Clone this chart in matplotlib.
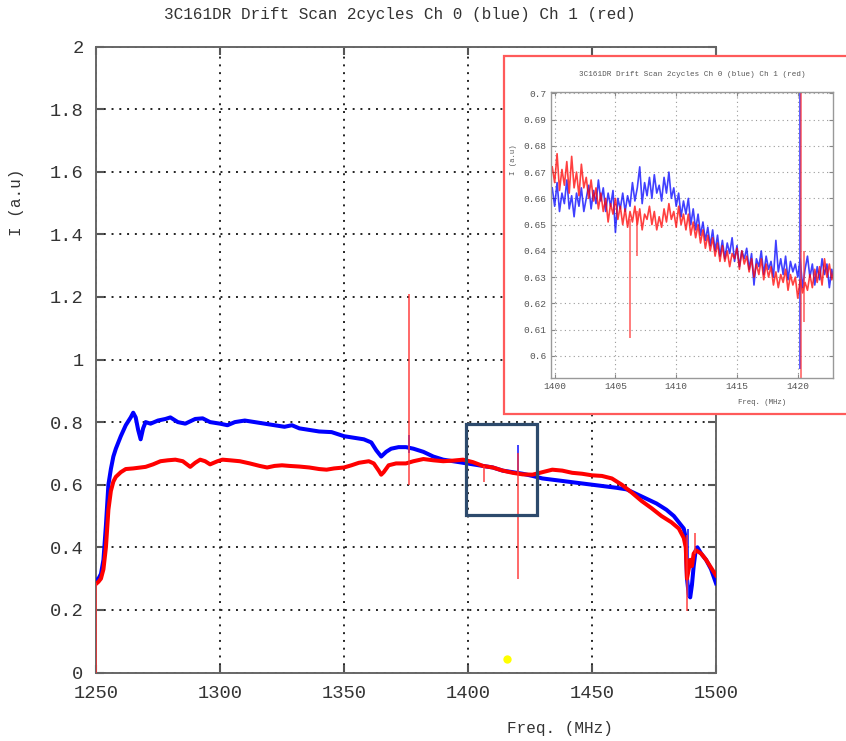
import matplotlib

matplotlib.use("Agg")

import matplotlib.pyplot as plt
import numpy as np
from matplotlib.patches import Rectangle
from matplotlib.ticker import FuncFormatter

plt.rcParams["font.family"] = ["Liberation Mono", "DejaVu Sans Mono"]

TITLE = "3C161DR Drift Scan 2cycles Ch 0 (blue) Ch 1 (red)"

# ---- main spectrum (MHz, a.u.) ----
blue_freq = [1250, 1251, 1252, 1253, 1254, 1255, 1256, 1257, 1258, 1260, 1262, 1264, 1265,
             1266, 1267, 1268, 1269, 1270, 1272, 1275, 1278, 1280, 1283, 1286, 1290, 1293,
             1296, 1300, 1303, 1306, 1310, 1314, 1318, 1322, 1326, 1329, 1332, 1336, 1340,
             1345, 1350, 1354, 1358, 1361, 1363, 1365, 1367, 1369, 1372, 1375, 1378, 1382,
             1386, 1390, 1394, 1398, 1402, 1406, 1410, 1414, 1418, 1422, 1426, 1430, 1435,
             1440, 1445, 1450, 1455, 1460, 1464, 1468, 1472, 1476, 1480, 1483, 1485, 1487,
             1487.8, 1488.3, 1489, 1489.6, 1490.3, 1491, 1491.8, 1492.5, 1494, 1496, 1498, 1500]
blue_int = [0.295, 0.30, 0.315, 0.36, 0.47, 0.60, 0.65, 0.69, 0.715, 0.755, 0.79, 0.815, 0.83,
            0.815, 0.775, 0.745, 0.78, 0.80, 0.795, 0.805, 0.81, 0.815, 0.80, 0.795, 0.81, 0.812,
            0.80, 0.795, 0.79, 0.80, 0.805, 0.80, 0.795, 0.79, 0.785, 0.79, 0.78, 0.775, 0.77,
            0.768, 0.755, 0.75, 0.745, 0.735, 0.71, 0.69, 0.705, 0.715, 0.72, 0.72, 0.715, 0.705,
            0.69, 0.68, 0.675, 0.67, 0.665, 0.66, 0.655, 0.645, 0.64, 0.635, 0.628, 0.62, 0.615,
            0.61, 0.605, 0.60, 0.595, 0.59, 0.585, 0.57, 0.555, 0.54, 0.52, 0.50, 0.48, 0.46,
            0.43, 0.30, 0.25, 0.24, 0.28, 0.34, 0.39, 0.40, 0.38, 0.36, 0.33, 0.285]

red_freq = [1250.3, 1251, 1252, 1253, 1254, 1255, 1256, 1257, 1258, 1260, 1262, 1265, 1268,
            1270, 1273, 1276, 1279, 1282, 1285, 1288, 1290, 1292, 1294, 1296, 1299, 1301, 1304,
            1308, 1312, 1316, 1319, 1322, 1325, 1328, 1332, 1336, 1340, 1343, 1346, 1350, 1353,
            1356, 1360, 1362, 1364, 1365, 1366, 1368, 1371, 1375, 1378, 1382, 1386, 1390, 1394,
            1398, 1402, 1406, 1410, 1414, 1418, 1422, 1426, 1430, 1434, 1438, 1442, 1446, 1450,
            1454, 1458, 1462, 1466, 1470, 1474, 1478, 1482, 1485, 1487, 1487.8, 1488.3, 1489,
            1489.6, 1490.3, 1491, 1492, 1494, 1496, 1498, 1500]
red_int = [0.285, 0.29, 0.30, 0.33, 0.40, 0.52, 0.58, 0.61, 0.625, 0.64, 0.65, 0.652, 0.655,
           0.657, 0.665, 0.675, 0.678, 0.68, 0.675, 0.657, 0.67, 0.68, 0.675, 0.665, 0.675, 0.68,
           0.678, 0.675, 0.668, 0.66, 0.655, 0.66, 0.662, 0.66, 0.658, 0.655, 0.65, 0.648, 0.652,
           0.655, 0.662, 0.67, 0.675, 0.668, 0.645, 0.632, 0.64, 0.662, 0.668, 0.668, 0.675,
           0.682, 0.678, 0.675, 0.677, 0.68, 0.672, 0.66, 0.655, 0.645, 0.638, 0.633, 0.632,
           0.64, 0.648, 0.645, 0.638, 0.635, 0.63, 0.628, 0.62, 0.60, 0.575, 0.548, 0.525, 0.50,
           0.48, 0.46, 0.43, 0.40, 0.30, 0.33, 0.36, 0.34, 0.38, 0.39, 0.38, 0.36, 0.335, 0.31]

# narrow RFI spikes: freq, low, high
red_spike_freq = [1250.0, 1376.3, 1406.5, 1420.3, 1428.2, 1488.2, 1491.5]
red_spike_lo = [0.0, 0.60, 0.61, 0.30, 0.56, 0.195, 0.38]
red_spike_hi = [0.285, 1.21, 0.66, 0.70, 0.63, 0.44, 0.445]
blue_spike_freq = [1376.2, 1420.1, 1488.6]
blue_spike_lo = [0.70, 0.64, 0.24]
blue_spike_hi = [0.76, 0.727, 0.46]

# zoom box and marker
box_freq = (1399.3, 1427.7)
box_int = (0.503, 0.793)
dot_freq, dot_int = 1415.7, 0.043

# ---- inset: 1399.8 .. 1423.0 MHz, 0.2 MHz channels ----
inset_start, inset_end = 1399.8, 1423.0
inset_blue = [
    0.664, 0.657, 0.666, 0.655, 0.662, 0.658, 0.667, 0.656, 0.661, 0.653,
    0.662, 0.657, 0.664, 0.655, 0.660, 0.665, 0.656, 0.663, 0.658, 0.667,
    0.659, 0.664, 0.655, 0.662, 0.657, 0.663, 0.647, 0.660, 0.656, 0.662,
    0.655, 0.661, 0.657, 0.666, 0.659, 0.664, 0.672, 0.658, 0.666, 0.661,
    0.668, 0.660, 0.669, 0.662, 0.665, 0.659, 0.668, 0.662, 0.670, 0.660,
    0.664, 0.657, 0.662, 0.653, 0.659, 0.654, 0.660, 0.650, 0.656, 0.648,
    0.654, 0.646, 0.651, 0.644, 0.649, 0.642, 0.648, 0.640, 0.646, 0.638,
    0.644, 0.637, 0.643, 0.639, 0.645, 0.636, 0.642, 0.634, 0.640, 0.637,
    0.641, 0.633, 0.639, 0.627, 0.637, 0.634, 0.640, 0.631, 0.638, 0.633,
    0.636, 0.630, 0.644, 0.632, 0.637, 0.631, 0.638, 0.629, 0.636, 0.632,
    0.635, 0.630, 0.637, 0.626, 0.633, 0.638, 0.630, 0.635, 0.627, 0.634,
    0.629, 0.637, 0.631, 0.635, 0.626, 0.633, 0.628]
inset_red = [
    0.672, 0.666, 0.677, 0.663, 0.671, 0.665, 0.674, 0.662, 0.676, 0.664,
    0.670, 0.661, 0.673, 0.664, 0.668, 0.660, 0.667, 0.659, 0.664, 0.656,
    0.662, 0.655, 0.660, 0.651, 0.658, 0.654, 0.660, 0.652, 0.657, 0.650,
    0.656, 0.649, 0.655, 0.651, 0.657, 0.650, 0.656, 0.648, 0.654, 0.652,
    0.657, 0.650, 0.655, 0.648, 0.653, 0.649, 0.656, 0.651, 0.658, 0.652,
    0.655, 0.649, 0.657, 0.650, 0.654, 0.648, 0.654, 0.646, 0.651, 0.645,
    0.650, 0.643, 0.648, 0.641, 0.646, 0.640, 0.645, 0.638, 0.643, 0.636,
    0.642, 0.636, 0.640, 0.634, 0.639, 0.637, 0.641, 0.633, 0.640, 0.635,
    0.638, 0.632, 0.637, 0.630, 0.635, 0.631, 0.637, 0.629, 0.635, 0.630,
    0.634, 0.627, 0.632, 0.626, 0.631, 0.628, 0.633, 0.625, 0.631, 0.627,
    0.630, 0.622, 0.629, 0.624, 0.628, 0.625, 0.631, 0.626, 0.633, 0.628,
    0.634, 0.627, 0.637, 0.630, 0.635, 0.629, 0.633]
inset_red_spike_freq = [1406.2, 1406.8, 1420.3, 1420.5]
inset_red_spike_lo = [0.607, 0.638, 0.590, 0.613]
inset_red_spike_hi = [0.652, 0.655, 0.701, 0.640]
inset_blue_spike_freq = [1420.15]
inset_blue_spike_lo = [0.595]
inset_blue_spike_hi = [0.701]

W, H = 846, 741
TXT = "#333333"


def fx(px):
    return px / W


def fy(py):
    return 1 - py / H


fig = plt.figure(figsize=(W / 100, H / 100), dpi=100)

# ---- main axes ----
ax = fig.add_axes([fx(96), fy(672.5), 620 / W, 626 / H])
ax.plot(blue_freq, blue_int, color="#0000ff", lw=2.9, zorder=3)
ax.vlines(blue_spike_freq, blue_spike_lo, blue_spike_hi, color="#3030ff", lw=1.3, zorder=3)
ax.plot(red_freq, red_int, color="#ff0000", lw=2.9, zorder=4)
ax.vlines(red_spike_freq, red_spike_lo, red_spike_hi, color="#ff3030", lw=1.2, alpha=0.85, zorder=4)
ax.add_patch(Rectangle((box_freq[0], box_int[0]), box_freq[1] - box_freq[0], box_int[1] - box_int[0],
                       fill=False, edgecolor="#2d4a6c", lw=2.3, zorder=5))
ax.plot(dot_freq, dot_int, "o", color="#ffff00", ms=6, mec="none", zorder=5)

ax.set_xlim(1250, 1500)
ax.set_ylim(0, 2)
ax.set_xticks(np.arange(1250, 1501, 50))
ax.set_yticks(np.arange(0, 2.01, 0.2))
ax.yaxis.set_major_formatter(FuncFormatter(lambda v, p: f"{v:g}"))
ax.grid(True, color="#222222", linestyle=(0, (1, 3)), lw=1.4)
ax.tick_params(direction="in", length=6, width=1.5, color="#555555", top=True, right=True,
               labelsize=13.5, labelcolor=TXT, pad=9)
for s in ax.spines.values():
    s.set_color("#666666")
    s.set_linewidth(1.4)

fig.text(fx(400), fy(14), TITLE, ha="center", va="center", fontsize=11.5, color=TXT)
fig.text(fx(16), fy(202), "I (a.u)", ha="center", va="center", rotation=90, fontsize=11.5, color=TXT)
fig.text(fx(560), fy(728), "Freq. (MHz)", ha="center", va="center", fontsize=11.5, color=TXT)

# ---- inset panel with red border ----
fig.add_artist(Rectangle((fx(504), fy(414)), (850 - 504) / W, (414 - 56) / H, transform=fig.transFigure,
                         facecolor="white", edgecolor="#ff5a5a", lw=1.6, zorder=2))

ax2 = fig.add_axes([fx(551), fy(378), 282 / W, 286 / H], zorder=3)
f_in = np.linspace(inset_start, inset_end, len(inset_blue))
ax2.plot(f_in, inset_blue, color="#0000ff", lw=1.2, alpha=0.75)
ax2.vlines(inset_blue_spike_freq, inset_blue_spike_lo, inset_blue_spike_hi, color="#4040ff", lw=1.2)
f_in_r = np.linspace(inset_start, inset_end, len(inset_red))
ax2.plot(f_in_r, inset_red, color="#ff0000", lw=1.2, alpha=0.75)
ax2.vlines(inset_red_spike_freq, inset_red_spike_lo, inset_red_spike_hi, color="#ff3030", lw=1.1, alpha=0.8)
ax2.set_xlim(1399.7, 1422.9)
ax2.set_ylim(0.5916, 0.7005)
ax2.set_xticks(np.arange(1400, 1421, 5))
ax2.set_yticks(np.arange(0.6, 0.7001, 0.01))
ax2.yaxis.set_major_formatter(FuncFormatter(lambda v, p: f"{v:g}"))
ax2.grid(True, color="#999999", linestyle=(0, (1, 3)), lw=0.8)
ax2.tick_params(direction="in", length=3, width=0.8, color="#888888", top=True, right=True,
                labelsize=6.8, labelcolor="#555555", pad=3)
for s in ax2.spines.values():
    s.set_color("#999999")
    s.set_linewidth(1.0)

fig.text(fx(692), fy(74), TITLE, ha="center", va="center", fontsize=5.5, color="#555555", zorder=4)
fig.text(fx(513), fy(160), "I (a.u)", ha="center", va="center", rotation=90, fontsize=5.2,
         color="#555555", zorder=4)
fig.text(fx(762), fy(402), "Freq. (MHz)", ha="center", va="center", fontsize=5.3, color="#555555", zorder=4)

fig.savefig("out.png", dpi=100)
plt.close(fig)
